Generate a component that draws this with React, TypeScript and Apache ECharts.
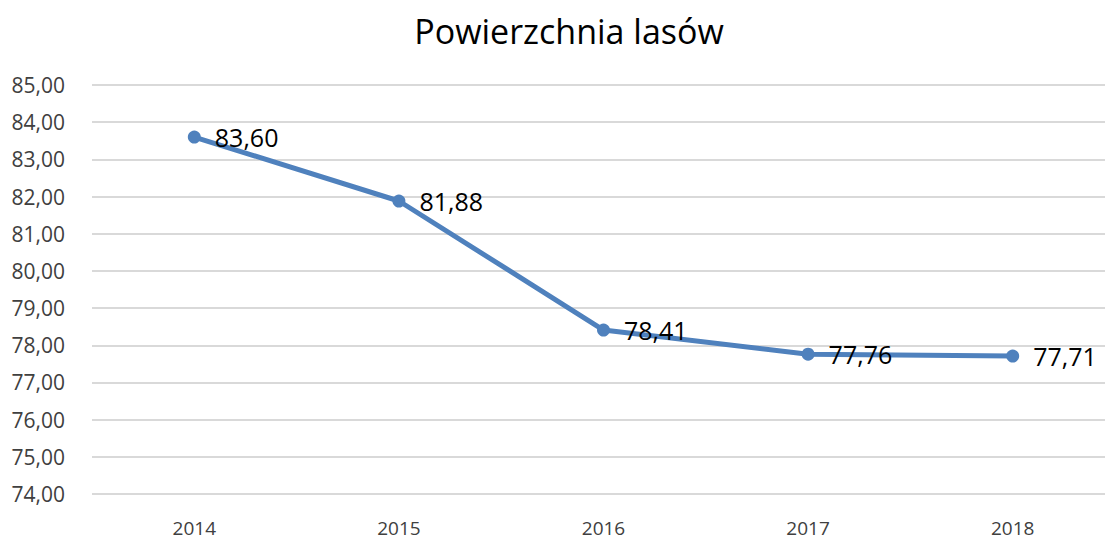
import React, { useEffect, useRef } from "react";
import * as echarts from "echarts";

const categories = ["2014", "2015", "2016", "2017", "2018"];
const values = [83.6, 81.88, 78.41, 77.76, 77.71];
const chartTitle = "Powierzchnia lasów";

const fmt = (v: number) => v.toFixed(2).replace(".", ",");

export default function App() {
  const ref = useRef<HTMLDivElement>(null);
  useEffect(() => {
    document.body.style.margin = "0";
    document.body.style.overflow = "hidden";
    const chart = echarts.init(ref.current!, null, { renderer: "svg" });
    chart.setOption({
      animation: false,
      textStyle: { fontFamily: "Open Sans" },
      title: {
        text: chartTitle,
        left: 564,
        top: 9,
        textAlign: "center",
        textStyle: { fontFamily: "Open Sans", fontSize: 34, fontWeight: "normal", color: "#000" },
      },
      grid: { left: 92, right: 0, top: 85, bottom: 46 },
      xAxis: {
        type: "category",
        data: categories,
        axisLine: { show: false },
        axisTick: { show: false },
        axisLabel: { fontSize: 19, color: "#404040", margin: 24, fontFamily: "Open Sans" },
      },
      yAxis: {
        type: "value",
        min: 74,
        max: 85,
        interval: 1,
        axisLine: { show: false },
        axisTick: { show: false },
        splitLine: { lineStyle: { color: "#d9d9d9", width: 2 } },
        axisLabel: {
          fontSize: 21,
          color: "#404040",
          margin: 27,
          fontFamily: "Open Sans",
          formatter: (v: number) => fmt(v),
        },
      },
      series: [
        {
          type: "line",
          data: values,
          symbol: "circle",
          symbolSize: 13,
          lineStyle: { color: "#4f81bd", width: 5 },
          itemStyle: { color: "#4f81bd" },
          label: {
            show: true,
            position: "right",
            distance: 14,
            fontSize: 25,
            color: "#000",
            fontFamily: "Open Sans",
            formatter: (p: any) => fmt(p.value),
          },
        },
      ],
    });
    return () => chart.dispose();
  }, []);
  return <div ref={ref} style={{ position: "absolute", left: 0, top: 0, width: 1115, height: 540 }} />;
}
